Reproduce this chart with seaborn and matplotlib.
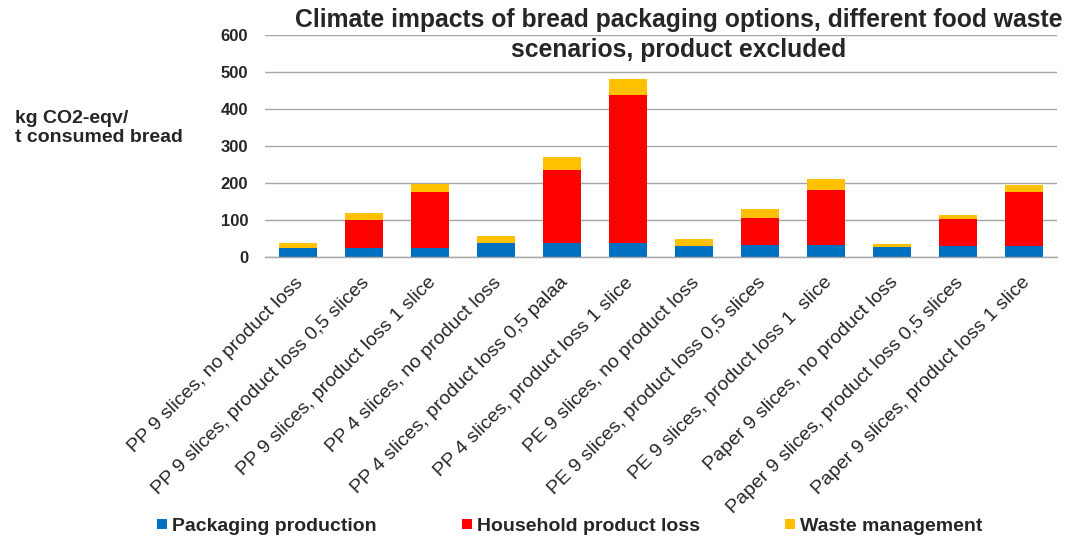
import matplotlib
matplotlib.use("Agg")
import pandas as pd
import seaborn as sns
import matplotlib.pyplot as plt
from matplotlib.lines import Line2D
from matplotlib.transforms import ScaledTranslation

# Data (kg CO2-eqv / t consumed bread)
scenarios = [
    "PP 9 slices, no product loss",
    "PP 9 slices, product loss 0,5 slices",
    "PP 9 slices, product loss 1 slice",
    "PP 4 slices, no product loss",
    "PP 4 slices, product loss 0,5 palaa",
    "PP 4 slices, product loss 1 slice",
    "PE 9 slices, no product loss",
    "PE 9 slices, product loss 0,5 slices",
    "PE 9 slices, product loss 1  slice",
    "Paper 9 slices, no product loss",
    "Paper 9 slices, product loss 0,5 slices",
    "Paper 9 slices, product loss 1 slice",
]
packaging = [24, 25, 25, 37, 37, 37, 31, 33, 33, 28, 29, 29]
household = [0, 75, 150, 0, 199, 401, 0, 73, 149, 0, 74, 148]
waste = [14, 18, 22, 20, 33, 42, 19, 24, 28, 6, 11, 17]

series_names = ["Packaging production", "Household product loss", "Waste management"]
series_colors = ["#0070C0", "#FF0000", "#FFC000"]
y_ticks = [0, 100, 200, 300, 400, 500, 600]

title = "Climate impacts of bread packaging options, different food waste\nscenarios, product excluded"
y_label = "kg CO2-eqv/\nt consumed bread"

sns.set_theme(style="white")
plt.rcParams['font.family'] = ['Liberation Sans', 'DejaVu Sans']

df = pd.DataFrame({
    "scenario": scenarios,
    series_names[0]: packaging,
    series_names[1]: household,
    series_names[2]: waste,
})
# cumulative heights so the overlapping bars look stacked
stack = df[series_names].cumsum(axis=1)

W, H = 1069, 537
fig = plt.figure(figsize=(W / 100, H / 100), dpi=100)
ax = fig.add_axes([265 / W, 1 - 257 / H, 792 / W, 222 / H])

# draw tallest (total) first, then the lower segments on top
for name, color in reversed(list(zip(series_names, series_colors))):
    sns.barplot(x=df["scenario"], y=stack[name], color=color, saturation=1,
                width=0.565, linewidth=0, ax=ax)

ax.set_xlabel("")
ax.set_ylabel("")
ax.set_xlim(-0.5, len(scenarios) - 0.5)
ax.set_ylim(0, 600)
ax.set_yticks(y_ticks)
ax.yaxis.grid(True, color="#A6A6A6", linewidth=1)
ax.set_axisbelow(True)
for side in ["left", "top", "right"]:
    ax.spines[side].set_visible(False)
ax.spines["bottom"].set_color("#A6A6A6")
ax.spines["bottom"].set_linewidth(1)

ax.tick_params(axis="y", length=0, pad=12, labelsize=12)
for t in ax.get_yticklabels():
    t.set_fontweight("bold")

ax.set_xticks(range(len(scenarios)))
ax.set_xticklabels(scenarios, rotation=45, ha="right", va="center",
                   rotation_mode="anchor", fontsize=14)
ax.tick_params(axis="x", length=0, pad=0)
shift = ScaledTranslation(3 / 100, -23 / 100, fig.dpi_scale_trans)
for t in ax.get_xticklabels():
    t.set_transform(t.get_transform() + shift)

fig.text(15 / W, 1 - 128 / H, y_label, ha="left", va="center",
         fontsize=14, fontweight="bold", linespacing=1.2)
fig.text(679 / W, 1 - 8 / H, title, ha="center", va="top",
         fontsize=17.8, fontweight="bold", linespacing=1.3)

handles = [Line2D([], [], marker="s", linestyle="", markersize=7,
                  markerfacecolor=c, markeredgewidth=0) for c in series_colors]
fig.legend(handles, series_names, loc="center", bbox_to_anchor=(569.5 / W, 1 - 526 / H),
           ncol=3, frameon=False, prop={"size": 14, "weight": "bold"},
           handlelength=0.5, handletextpad=0.26, columnspacing=4.4)

fig.savefig("out.png", dpi=100)
